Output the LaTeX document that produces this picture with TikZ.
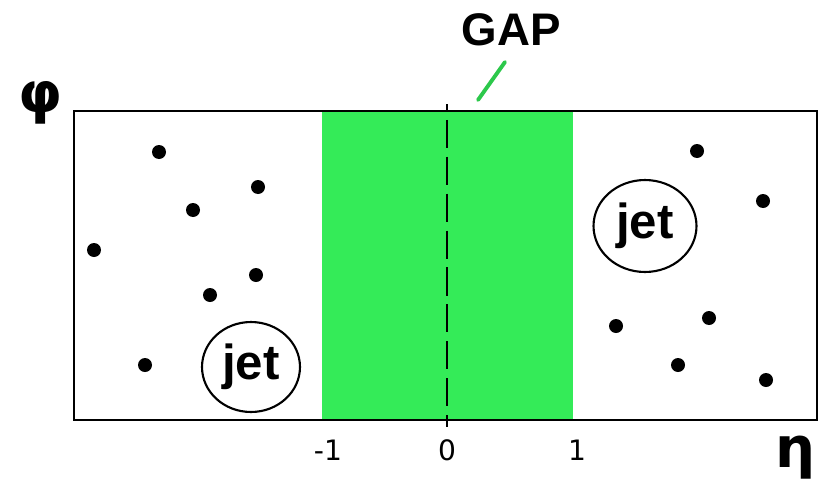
\documentclass[tikz,border=0pt]{standalone}
\usepackage{fontspec}
\usetikzlibrary{shapes.geometric}
\setmainfont{Liberation Sans}
\newfontfamily\dejavu{DejaVu Sans}
\definecolor{gapgreen}{RGB}{52,235,88}
\begin{document}
\begin{tikzpicture}[x=0.02cm,y=-0.02cm,
  dot/.style={circle,fill=black,inner sep=0pt,minimum size=0.28cm},
  jetnode/.style={ellipse,draw=black,line width=1.2pt,inner sep=0pt,font=\bfseries\fontsize{28}{30}\selectfont},
  ticklab/.style={font=\dejavu\fontsize{16}{18}\selectfont},
  axlab/.style={font=\dejavu\bfseries\fontsize{32}{34}\selectfont}]
\useasboundingbox (0,0) rectangle (827,490);
\fill[gapgreen] (322,111) rectangle (573,420);
\draw[line width=1.3pt] (74,111) rectangle (817,420);
\coordinate (dtop) at (447,104);
\coordinate (dbot) at (447,427);
\draw[line width=1.3pt,dash pattern=on 16pt off 5pt,dash phase=12pt] (dtop) -- (dbot);
\node[font=\bfseries\fontsize{26}{28}\selectfont] (gap) at (511,30) {GAP};
\coordinate (g1) at (505,62);
\coordinate (g2) at (478,100);
\draw[gapgreen!85!black,line width=2.2pt,line cap=round] (g1) -- (g2);
\node[ticklab] (tm1) at (328,450) {-1};
\node[ticklab] (t0) at (447,450) {0};
\node[ticklab] (t1) at (577,450) {1};
\node[axlab] (phi) at (40,103) {φ};
\node[axlab] (eta) at (795,458) {η};
\node[jetnode,minimum width=1.96cm,minimum height=1.8cm] (jet1) at (251,367) {jet};
\node[jetnode,minimum width=2.06cm,minimum height=1.84cm] (jet2) at (645,226) {jet};
\foreach \n/\x/\y in {d1/159/152,d2/258/187,d3/193/210,d4/94/250,d5/256/275,d6/210/295,d7/145/365,
  d8/697/151,d9/763/201,d10/616/326,d11/709/318,d12/678/365,d13/766/380}
  \node[dot] (\n) at (\x,\y) {};
\end{tikzpicture}
\end{document}
